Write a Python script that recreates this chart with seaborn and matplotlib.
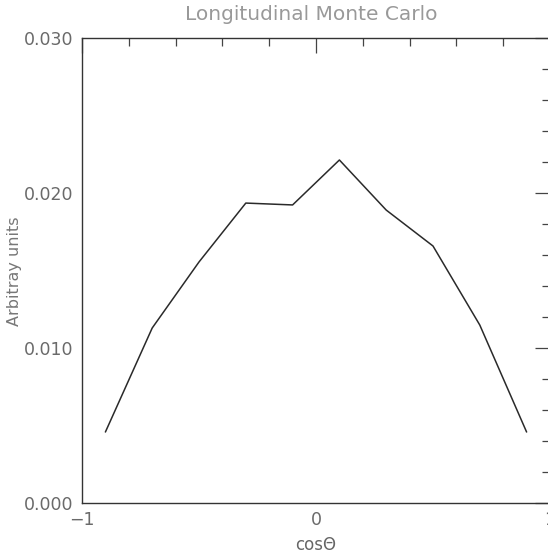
import matplotlib
matplotlib.use("Agg")
import matplotlib.pyplot as plt
import seaborn as sns
import pandas as pd
from matplotlib.ticker import MultipleLocator

cos_theta = [-0.9, -0.7, -0.5, -0.3, -0.1, 0.1, 0.3, 0.5, 0.7, 0.9]
values = [0.00458, 0.01129, 0.01555, 0.01935, 0.01923, 0.02213, 0.0189, 0.01658, 0.01148, 0.00458]
x_ticks = [-1, 0, 1]
x_tick_labels = ["\u22121", "0", "1"]
y_ticks = [0.000, 0.010, 0.020, 0.030]
y_tick_labels = ["0.000", "0.010", "0.020", "0.030"]

df = pd.DataFrame({"cos": cos_theta, "val": values})

sns.set_style("white")
plt.rcParams["font.family"] = ["DejaVu Sans"]

fig = plt.figure(figsize=(5.48, 5.54), dpi=100)
ax = fig.add_axes([82/548, 1 - 503/554, (550 - 82)/548, (503 - 38)/554])

sns.lineplot(data=df, x="cos", y="val", ax=ax, color="#2a2a2a", linewidth=1.1)

ax.set_xlim(-1, 1)
ax.set_ylim(0, 0.030)
ax.set_xticks(x_ticks)
ax.set_xticklabels(x_tick_labels)
ax.set_yticks(y_ticks)
ax.set_yticklabels(y_tick_labels)
ax.xaxis.set_minor_locator(MultipleLocator(0.2))
ax.yaxis.set_minor_locator(MultipleLocator(0.002))
ax.tick_params(which="both", direction="in", top=True, right=True, colors="#444444",
               labelcolor="#6a6a6a", labelsize=12.5, width=0.9)
ax.tick_params(which="major", length=11, pad=6)
ax.tick_params(which="minor", length=6)
for s in ax.spines.values():
    s.set_color("#333333")
    s.set_linewidth(1.0)

ax.set_xlabel("cos\u0398", color="#666666", fontsize=12)
ax.xaxis.set_label_coords((316 - 82) / 468, -(545 - 503) / 465)
ax.xaxis.label.set_va("center")
ax.set_ylabel("Arbitray units", color="#777777", fontsize=11.5)
ax.yaxis.set_label_coords(-(82 - 15) / 468, (503 - 271) / 465)
ax.yaxis.label.set_va("center")
fig.text(311/548, 1 - 15/554, "Longitudinal Monte Carlo", ha="center", va="center",
         color="#999999", fontsize=14.5)

fig.savefig("out.png", dpi=100, facecolor="white")
